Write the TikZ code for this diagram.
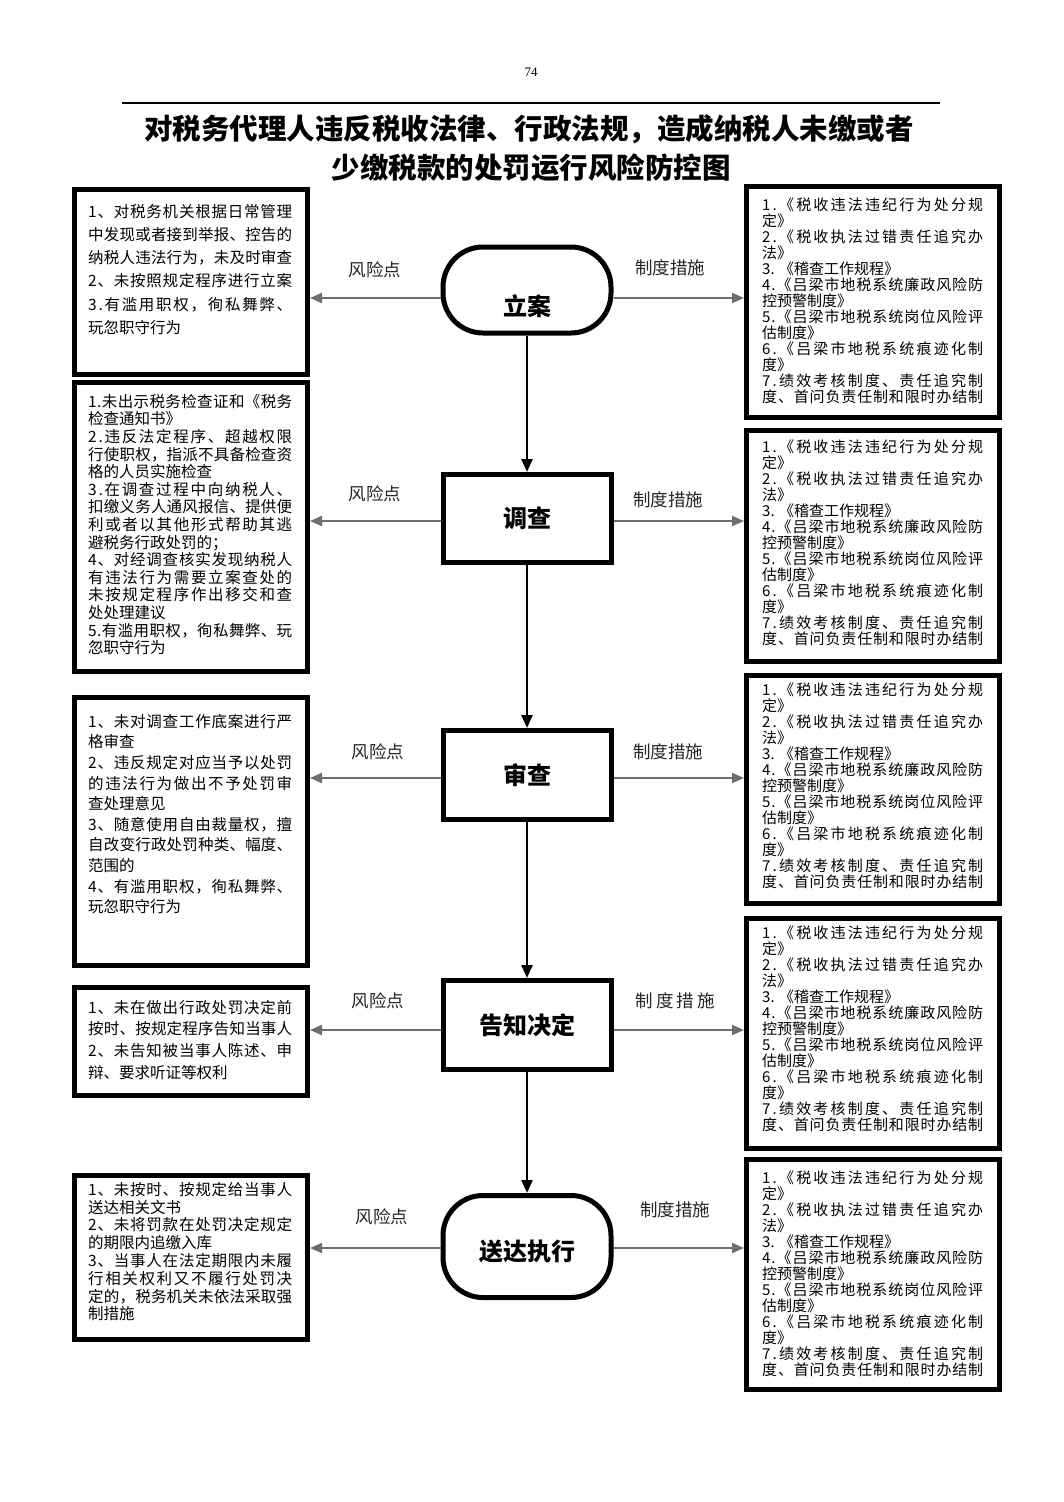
\documentclass[tikz,border=0pt]{standalone}
\usepackage{fontspec}
\setmainfont{Liberation Serif}
\newfontfamily\cjk{Noto Sans CJK SC}
\usetikzlibrary{arrows.meta}
\def\jend{jend-marker}
\def\jsp#1#2{#1\ifx#2\jend\else\hfil\expandafter\jsp\expandafter#2\fi}
\newcommand\jL[1]{\makebox[204pt][s]{\jsp#1\jend}}
\newcommand\jR[1]{\makebox[221pt][s]{\jsp#1\jend}}
\definecolor{arrgray}{HTML}{6E6E6E}
\begin{document}
\begin{tikzpicture}[x=1pt,y=-1pt,
  box/.style={draw=black, line width=5pt, inner sep=0pt},
  lbox/.style={box, minimum width=233pt},
  rbox/.style={box, minimum width=253pt},
  ltext/.style={anchor=north west, inner sep=0pt, align=left, font=\cjk\fontsize{15.5}{#1}\selectfont},
  rtext/.style={anchor=north west, inner sep=0pt, align=left, font=\cjk\fontsize{15}{16}\selectfont},
  stepnode/.style={draw=black, line width=5pt, minimum width=168pt, inner sep=0pt, font=\cjk\bfseries\fontsize{24}{28}\selectfont},
  stadium/.style={stepnode, rounded corners=40pt},
  steptext/.style={inner sep=0pt, font=\cjk\bfseries\fontsize{24}{28}\selectfont},
  lab/.style={inner sep=0pt, font=\cjk\fontsize{17.5}{20}\selectfont, text=black!85},
  risk/.style={draw=arrgray, line width=2pt, -{Triangle[length=12pt,width=10pt]}},
  flow/.style={draw=black, line width=2.5pt, -{Triangle[length=13pt,width=11pt]}}
]
\useasboundingbox[fill=white] (0,0) rectangle (1063,1502);

% header
\node[inner sep=0pt, font=\fontsize{13}{15}\selectfont] (pg) at (531,72) {74};
\draw[line width=1.5pt] (122,103) -- (940,103);
\node[inner sep=0pt, font=\cjk\bfseries\fontsize{28.5}{32}\selectfont] (T1) at (529,129) {对税务代理人违反税收法律、行政法规，造成纳税人未缴或者};
\node[inner sep=0pt, font=\cjk\bfseries\fontsize{28.5}{32}\selectfont] (T2) at (531,168) {少缴税款的处罚运行风险防控图};

% centre steps
\node[stadium, minimum height=86pt] (N1) at (527,290) {};
\node[steptext] (N1t) at (527,306) {立案};
\node[stepnode, minimum height=88pt] (N2) at (527,518.5) {调查};
\node[stepnode, minimum height=89pt] (N3) at (527,775) {审查};
\node[stepnode, minimum height=89pt] (N4) at (527,1025) {告知决定};
\node[stadium, minimum height=102pt] (N5) at (527,1246.5) {};
\node[steptext] (N5t) at (527,1251) {送达执行};

\draw[flow] (N1.south) -- (N2.north);
\draw[flow] (N2.south) -- (N3.north);
\draw[flow] (N3.south) -- (N4.north);
\draw[flow] (N4.south) -- (N5.north);

% left boxes
\node[lbox, minimum height=185pt] (L1) at (191,282) {};
\node[lbox, minimum height=288.5pt] (L2) at (191,526.75) {};
\node[lbox, minimum height=268pt] (L3) at (191,831.5) {};
\node[lbox, minimum height=108pt] (L4) at (191,1041.5) {};
\node[lbox, minimum height=164pt] (L5) at (191,1257.5) {};

\node[ltext=23.2] (L1t) at (88,204) {\jL{1、对税务机关根据日常管理}\\
\jL{中发现或者接到举报、控告的}\\
\jL{纳税人违法行为，未及时审查}\\
\jL{2、未按照规定程序进行立案}\\
\jL{3. 有滥用职权，徇私舞弊、}\\
玩忽职守行为};

\node[ltext=17.6] (L2t) at (88,394) {\jL{1.未出示税务检查证和《税务}\\
检查通知书》\\
\jL{2. 违反法定程序、超越权限}\\
\jL{行使职权，指派不具备检查资}\\
格的人员实施检查\\
\jL{3. 在调查过程中向纳税人、}\\
\jL{扣缴义务人通风报信、提供便}\\
\jL{利或者以其他形式帮助其逃}\\
避税务行政处罚的；\\
\jL{4、对经调查核实发现纳税人}\\
\jL{有违法行为需要立案查处的}\\
\jL{未按规定程序作出移交和查}\\
处处理建议\\
\jL{5.有滥用职权，徇私舞弊、玩}\\
忽职守行为};

\node[ltext=20.6] (L3t) at (88,714) {\jL{1、未对调查工作底案进行严}\\
格审查\\
\jL{2、违反规定对应当予以处罚}\\
\jL{的违法行为做出不予处罚审}\\
查处理意见\\
\jL{3、随意使用自由裁量权，擅}\\
\jL{自改变行政处罚种类、幅度、}\\
范围的\\
\jL{4、有滥用职权，徇私舞弊、}\\
玩忽职守行为};

\node[ltext=21.6] (L4t) at (88,1000) {\jL{1、未在做出行政处罚决定前}\\
\jL{按时、按规定程序告知当事人}\\
\jL{2、未告知被当事人陈述、申}\\
辩、要求听证等权利};

\node[ltext=17.8] (L5t) at (88,1182) {\jL{1、未按时、按规定给当事人}\\
送达相关文书\\
\jL{2、未将罚款在处罚决定规定}\\
的期限内追缴入库\\
\jL{3、当事人在法定期限内未履}\\
\jL{行相关权利又不履行处罚决}\\
\jL{定的，税务机关未依法采取强}\\
制措施};

% right boxes
\node[rbox, minimum height=231pt] (R1) at (873,302) {};
\node[rbox, minimum height=231pt] (R2) at (873,546) {};
\node[rbox, minimum height=228pt] (R3) at (873,789.5) {};
\node[rbox, minimum height=230pt] (R4) at (873,1033.5) {};
\node[rbox, minimum height=230pt] (R5) at (873,1274.5) {};

\def\measures{\jR{1. 《税收违法违纪行为处分规}\\
定》\\
\jR{2. 《税收执法过错责任追究办}\\
法》\\
3. 《稽查工作规程》\\
\jR{4.《吕梁市地税系统廉政风险防}\\
控预警制度》\\
\jR{5.《吕梁市地税系统岗位风险评}\\
估制度》\\
\jR{6. 《吕梁市地税系统痕迹化制}\\
度》\\
\jR{7.绩效考核制度、责任追究制}\\
\jR{度、首问负责任制和限时办结制}}

\node[rtext] (R1t) at (762,197.5) {\measures};
\node[rtext] (R2t) at (762,439.5) {\measures};
\node[rtext] (R3t) at (762,682.5) {\measures};
\node[rtext] (R4t) at (762,925.5) {\measures};
\node[rtext] (R5t) at (762,1170.5) {\measures};

% side arrows
\draw[risk] ([yshift=-8pt]N1.west) -- ([yshift=-8pt]N1.west -| L1.east);
\draw[risk] ([yshift=-8pt]N1.east) -- ([yshift=-8pt]N1.east -| R1.west);
\draw[risk] ([yshift=-2.5pt]N2.west) -- ([yshift=-2.5pt]N2.west -| L2.east);
\draw[risk] ([yshift=-2.5pt]N2.east) -- ([yshift=-2.5pt]N2.east -| R2.west);
\draw[risk] ([yshift=-3pt]N3.west) -- ([yshift=-3pt]N3.west -| L3.east);
\draw[risk] ([yshift=-3pt]N3.east) -- ([yshift=-3pt]N3.east -| R3.west);
\draw[risk] ([yshift=-5pt]N4.west) -- ([yshift=-5pt]N4.west -| L4.east);
\draw[risk] ([yshift=-5pt]N4.east) -- ([yshift=-5pt]N4.east -| R4.west);
\draw[risk] ([yshift=-1.5pt]N5.west) -- ([yshift=-1.5pt]N5.west -| L5.east);
\draw[risk] ([yshift=-1.5pt]N5.east) -- ([yshift=-1.5pt]N5.east -| R5.west);

% labels
\node[lab] (a1) at (375,270) {风险点};
\node[lab] (b1) at (670,268) {制度措施};
\node[lab] (a2) at (375,494) {风险点};
\node[lab] (b2) at (668,500) {制度措施};
\node[lab] (a3) at (378,752) {风险点};
\node[lab] (b3) at (668,752) {制度措施};
\node[lab] (a4) at (378,1001) {风险点};
\node[lab] (b4) at (675,1001) {制\hspace{3pt}度\hspace{3pt}措\hspace{3pt}施};
\node[lab] (a5) at (382,1217) {风险点};
\node[lab] (b5) at (675,1210) {制度措施};
\end{tikzpicture}
\end{document}
